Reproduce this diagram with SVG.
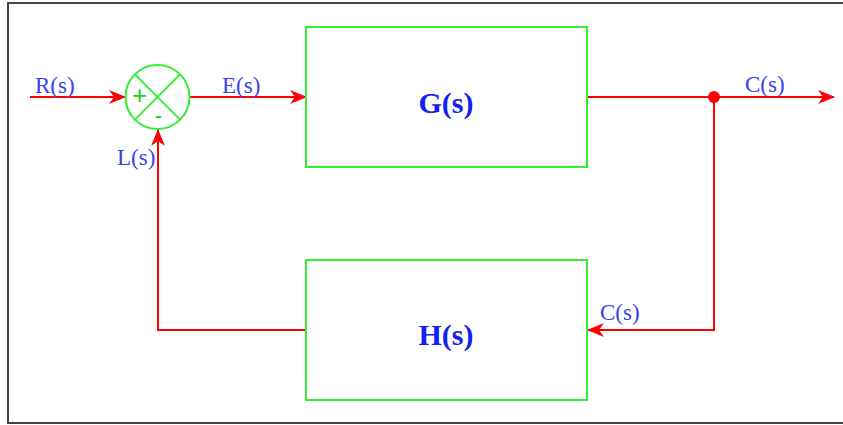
<svg xmlns="http://www.w3.org/2000/svg" width="843" height="425" viewBox="0 0 843 425">
<defs>
<style>
.box{fill:none;stroke:#33ee33;stroke-width:2}
.wire{fill:none;stroke:#ff0000;stroke-width:2}
.lbl{font-family:"Liberation Serif","Times New Roman",serif;font-size:23px;fill:#3344ee}
.big{font-family:"Liberation Serif","Times New Roman",serif;font-size:30px;font-weight:bold;fill:#1122ee;text-anchor:middle}
.sign{font-family:"Liberation Sans",Arial,sans-serif;fill:#22cc22;text-anchor:middle}
</style>
<marker id="arr" viewBox="0 0 17 14" refX="16" refY="7" markerWidth="17" markerHeight="14" markerUnits="userSpaceOnUse" orient="auto">
<path d="M0,0 L17,7 L0,14 L5,7 Z" fill="#ff0000"/>
</marker>
</defs>
<rect x="8" y="3" width="845" height="420" fill="#ffffff" stroke="#444444" stroke-width="2"/>
<g id="connectors">
<line class="wire" x1="30" y1="97" x2="125" y2="97" marker-end="url(#arr)"/>
<line class="wire" x1="190" y1="97" x2="306" y2="97" marker-end="url(#arr)"/>
<line class="wire" x1="587" y1="97" x2="834" y2="97" marker-end="url(#arr)"/>
<circle cx="714" cy="97" r="6" fill="#ff0000"/>
<polyline class="wire" points="714,97 714,330 588,330" marker-end="url(#arr)"/>
<polyline class="wire" points="306,330 158,330 158,130" marker-end="url(#arr)"/>
<text class="lbl" x="35" y="93">R(s)</text>
<text class="lbl" x="222" y="93">E(s)</text>
<text class="lbl" x="745" y="92">C(s)</text>
<text class="lbl" x="117" y="165">L(s)</text>
<text class="lbl" x="600" y="320">C(s)</text>
</g>
<g id="sum">
<circle cx="157.5" cy="97" r="32" fill="#ffffff" stroke="#33ee33" stroke-width="2"/>
<line x1="134.9" y1="74.4" x2="180.1" y2="119.6" stroke="#33ee33" stroke-width="2"/>
<line x1="180.1" y1="74.4" x2="134.9" y2="119.6" stroke="#33ee33" stroke-width="2"/>
<text class="sign" x="139.5" y="104" font-size="26">+</text>
<text class="sign" x="158.5" y="123" font-size="22">-</text>
</g>
<g id="G">
<rect class="box" x="306" y="27" width="281" height="140"/>
<text class="big" x="446" y="113">G(s)</text>
</g>
<g id="H">
<rect class="box" x="306" y="260" width="281" height="140"/>
<text class="big" x="446" y="345">H(s)</text>
</g>
</svg>
